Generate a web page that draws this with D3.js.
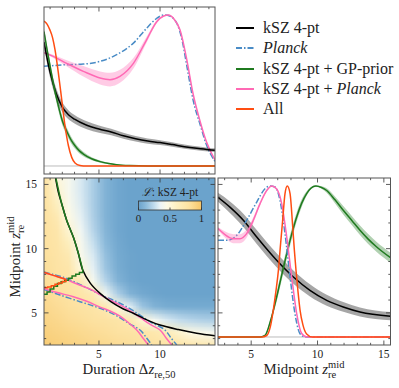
<!DOCTYPE html>
<html>
<head>
<meta charset="utf-8">
<script src="https://cdn.jsdelivr.net/npm/d3@7"></script>
<style>
  body { margin: 0; background: #fff; }
  svg text { font-family: "Liberation Serif", "Times New Roman", serif; fill: #222; }
</style>
</head>
<body>
<div id="chart"></div>
<script>
// ---- 1D marginal of the duration (top-left panel) ----
const durBlackX = [0.5, 1.0, 1.5, 2.0, 2.5, 3.0, 4.0, 5.0, 6.0, 7.0, 8.0, 9.0, 10.0, 11.0, 12.0, 13.0, 14.0, 14.5];
const durBlackY = [0.82, 0.62, 0.48, 0.39, 0.34, 0.31, 0.27, 0.245, 0.225, 0.2, 0.18, 0.165, 0.155, 0.142, 0.128, 0.117, 0.108, 0.105];
const durBlackErr = [0.03, 0.035, 0.035, 0.032, 0.03, 0.028, 0.026, 0.024, 0.022, 0.02, 0.018, 0.017, 0.016, 0.015, 0.014, 0.013, 0.012, 0.012];

const durGreenX = [0.5, 0.75, 1.0, 1.33, 1.67, 2.0, 2.36, 2.7, 3.04, 3.4, 3.72, 4.4, 5.09, 5.8, 6.45, 7.5, 9.0, 14.5];
const durGreenY = [0.89, 0.77, 0.66, 0.52, 0.40, 0.30, 0.23, 0.175, 0.134, 0.10, 0.079, 0.048, 0.029, 0.016, 0.009, 0.003, 0, 0];
const durGreenErr = [0.02, 0.025, 0.03, 0.03, 0.03, 0.028, 0.025, 0.022, 0.02, 0.017, 0.015, 0.01, 0.007, 0.005, 0.003, 0.001, 0, 0];

const durPinkX = [0.5, 1.26, 2.36, 3.72, 5.09, 5.9, 6.72, 7.82, 8.9, 9.73, 10.3, 10.7, 11.1, 11.64, 12.2, 12.7, 13.3, 13.8, 14.5];
const durPinkY = [0.75, 0.726, 0.68, 0.627, 0.583, 0.572, 0.594, 0.68, 0.836, 0.956, 0.993, 1.0, 0.978, 0.90, 0.70, 0.48, 0.29, 0.16, 0.04];
const durPinkErr = [0.005, 0.01, 0.02, 0.035, 0.043, 0.045, 0.043, 0.035, 0.02, 0.01, 0.005, 0.004, 0.005, 0.006, 0.008, 0.008, 0.007, 0.005, 0.003];

const durPlanckX = [0.5, 2.36, 3.72, 5.09, 6.45, 7.82, 8.9, 9.73, 10.3, 10.8, 11.4, 11.8, 12.2, 12.7, 13.3, 13.8, 14.5];
const durPlanckY = [0.66, 0.671, 0.675, 0.693, 0.737, 0.814, 0.912, 0.978, 1.0, 0.993, 0.94, 0.836, 0.66, 0.44, 0.27, 0.14, 0.03];

const durAllX = [0.5, 0.75, 0.99, 1.2, 1.4, 1.67, 1.95, 2.22, 2.5, 2.77, 3.04, 3.45, 4.0, 14.5];
const durAllY = [0.96, 0.94, 0.90, 0.85, 0.77, 0.62, 0.44, 0.265, 0.134, 0.057, 0.02, 0.004, 0, 0];

// ---- 1D marginal of the midpoint (bottom-right panel) ----
const midBlackX = [2.5, 3.4, 4.41, 5.42, 6.92, 8.18, 9.43, 10.69, 11.94, 13.2, 15.5];
const midBlackY = [0.925, 0.86, 0.773, 0.662, 0.508, 0.397, 0.309, 0.243, 0.199, 0.166, 0.138];
const midBlackErr = [0.03, 0.038, 0.044, 0.046, 0.046, 0.044, 0.04, 0.036, 0.032, 0.03, 0.027];

const midGreenX = [2.5, 5.7, 6.04, 6.5, 6.92, 7.3, 7.68, 8.05, 8.43, 8.8, 9.18, 9.5, 9.88, 10.3, 10.69, 11.3, 11.94, 12.6, 13.2, 13.8, 14.46, 15.5];
const midGreenY = [0, 0, 0.01, 0.12, 0.265, 0.41, 0.552, 0.68, 0.795, 0.885, 0.95, 0.985, 1.0, 0.99, 0.97, 0.91, 0.839, 0.77, 0.707, 0.65, 0.596, 0.525];
const midGreenErr = [0, 0, 0.002, 0.015, 0.03, 0.035, 0.035, 0.035, 0.03, 0.025, 0.015, 0.008, 0.005, 0.008, 0.015, 0.022, 0.028, 0.03, 0.032, 0.033, 0.033, 0.033];

const midPinkX = [2.5, 3.0, 3.65, 4.16, 4.66, 5.16, 5.67, 6.17, 6.55, 6.92, 7.3, 7.68, 8.05, 8.43, 8.81, 9.2, 15.5];
const midPinkY = [0.718, 0.68, 0.651, 0.651, 0.685, 0.773, 0.883, 0.97, 1.0, 0.98, 0.883, 0.662, 0.4, 0.155, 0.023, 0, 0];
const midPinkErr = [0.01, 0.02, 0.03, 0.03, 0.028, 0.02, 0.012, 0.006, 0.004, 0.005, 0.008, 0.01, 0.01, 0.008, 0.004, 0, 0];

const midPlanckX = [2.5, 3.15, 3.91, 4.66, 5.42, 6.04, 6.42, 6.8, 7.17, 7.55, 7.93, 8.3, 8.68, 9.1, 15.5];
const midPlanckY = [0.64, 0.64, 0.673, 0.773, 0.894, 0.982, 1.0, 0.993, 0.905, 0.684, 0.397, 0.155, 0.022, 0, 0];

const midAllX = [2.5, 5.8, 6.17, 6.45, 6.67, 6.86, 7.05, 7.2, 7.37, 7.55, 7.72, 7.93, 8.13, 8.25, 8.38, 8.53, 8.68, 8.9, 9.18, 9.6, 15.5];
const midAllY = [0, 0, 0.01, 0.07, 0.18, 0.3, 0.44, 0.6, 0.77, 0.95, 1.0, 0.95, 0.73, 0.58, 0.44, 0.3, 0.18, 0.08, 0.02, 0, 0];

// ---- 2D panel: likelihood grid (rows: midpoint 15.5 -> 2.5, cols: duration 0.5 -> 14.5) ----
const gridDur = d3.range(0.5, 14.51, 1);
const gridMid = d3.range(15.5, 2.49, -1);
const likeRows = [
  [0.80, 0.50, 0.40, 0.30, 0.19, 0.08, 0.02, 0, 0, 0, 0, 0, 0, 0, 0],
  [0.80, 0.55, 0.40, 0.30, 0.19, 0.08, 0.02, 0, 0, 0, 0, 0, 0, 0, 0],
  [0.80, 0.62, 0.42, 0.31, 0.19, 0.08, 0.02, 0, 0, 0, 0, 0, 0, 0, 0],
  [0.80, 0.70, 0.46, 0.33, 0.20, 0.08, 0.02, 0, 0, 0, 0, 0, 0, 0, 0],
  [0.80, 0.74, 0.53, 0.36, 0.22, 0.09, 0.02, 0, 0, 0, 0, 0, 0, 0, 0],
  [0.80, 0.76, 0.62, 0.40, 0.26, 0.11, 0.03, 0, 0, 0, 0, 0, 0, 0, 0],
  [0.81, 0.77, 0.70, 0.42, 0.30, 0.14, 0.04, 0.01, 0, 0, 0, 0, 0, 0, 0],
  [0.82, 0.78, 0.74, 0.49, 0.33, 0.16, 0.05, 0.01, 0, 0, 0, 0, 0, 0, 0],
  [0.83, 0.79, 0.76, 0.68, 0.40, 0.22, 0.08, 0.02, 0, 0, 0, 0, 0, 0, 0],
  [0.85, 0.81, 0.78, 0.75, 0.68, 0.38, 0.20, 0.08, 0.03, 0.01, 0, 0, 0, 0, 0],
  [0.87, 0.84, 0.81, 0.78, 0.76, 0.70, 0.48, 0.32, 0.16, 0.08, 0.05, 0.04, 0.04, 0.04, 0.04],
  [0.89, 0.87, 0.84, 0.82, 0.80, 0.78, 0.76, 0.70, 0.52, 0.38, 0.30, 0.25, 0.22, 0.20, 0.19],
  [0.92, 0.90, 0.88, 0.86, 0.84, 0.82, 0.80, 0.78, 0.76, 0.72, 0.66, 0.56, 0.46, 0.42, 0.39],
  [0.95, 0.93, 0.91, 0.89, 0.87, 0.86, 0.84, 0.82, 0.80, 0.79, 0.77, 0.75, 0.73, 0.71, 0.68]
];

// ---- 2D panel: contour lines as [duration, midpoint] ----
const cBlack = [[1.45, 15.5], [1.7, 14.3], [1.95, 13.5], [2.36, 12.2], [2.9, 10.9], [3.31, 9.64], [3.67, 8.34], [4.3, 7.3], [5.09, 6.52], [6.0, 5.85], [7.0, 5.3], [7.81, 4.97], [9.0, 4.42], [10.0, 4.05], [11.5, 3.7], [13.0, 3.42], [14.5, 3.22]];
const cGreenUpper = [[1.47, 15.5], [1.95, 13.5], [2.36, 12.2], [2.9, 10.9], [3.31, 9.64], [3.67, 8.34]];
const cGreenStairs = [[0.5, 6.45], [0.75, 6.62], [1.0, 6.85], [1.3, 7.08], [1.6, 7.28], [1.9, 7.42], [2.2, 7.55], [2.5, 7.7], [2.8, 7.88], [3.1, 8.0], [3.4, 8.15], [3.67, 8.34]];
const cAllUpper = [[0.5, 8.16], [1.0, 8.0], [1.5, 7.85], [2.0, 7.7], [2.3, 7.6]];
const cAllStairs = [[0.5, 6.96], [0.8, 7.02], [1.1, 7.12], [1.4, 7.22], [1.7, 7.33], [2.0, 7.45], [2.3, 7.6]];
const cPlanckUpper = [[0.5, 8.18], [1.2, 8.0], [2.08, 7.77], [3.0, 7.4], [4.27, 6.83], [5.4, 6.3], [6.45, 5.87], [7.5, 5.35], [8.36, 4.83], [9.2, 4.3], [10.4, 3.67], [10.9, 3.05], [11.37, 2.5]];
const cPlanckLower = [[0.5, 6.83], [1.81, 6.39], [3.45, 5.87], [4.6, 5.52], [5.63, 5.15], [6.5, 4.75], [7.5, 4.15], [8.36, 3.67], [8.9, 3.05], [9.32, 2.5]];
const cPinkUpper = [[0.5, 8.12], [1.3, 7.9], [2.3, 7.6], [3.2, 7.25], [4.27, 6.85], [5.3, 6.3], [6.45, 5.75], [7.5, 5.2], [8.36, 4.65], [9.2, 4.1], [10.0, 3.67], [10.5, 3.05], [10.96, 2.5]];
const cPinkLower = [[0.5, 6.91], [1.5, 6.6], [2.9, 6.26], [4.0, 5.9], [5.09, 5.45], [5.9, 5.15], [6.72, 4.75], [7.4, 4.25], [8.09, 3.67], [8.6, 3.05], [9.04, 2.5]];

// ---- legend ----
const legendNames = ["kSZ 4-pt", "Planck", "kSZ 4-pt + GP-prior", "kSZ 4-pt + Planck", "All"];
const legendColors = ["#000000", "#4a8cc6", "#1f7a1f", "#ff69b4", "#ff4d12"];

const durTicks = [5, 10];
const midTicks = [5, 10, 15];
const cbarTicks = [0, 0.5, 1];

const BLACK = "#000000", PLANCK = "#4a8cc6", GREEN = "#1f7a1f", PINK = "#ff69b4", ALL = "#ff4d12";
const DASHDOT = "6,2,1.5,2";

const W = 399, H = 388;
const TL = { x0: 44, x1: 215, y0: 7, y1: 174 };
const BL = { x0: 44, x1: 215, y0: 178, y1: 345 };
const BR = { x0: 218, x1: 390.5, y0: 178, y1: 345 };

const xDur = d3.scaleLinear([0.5, 14.5], [BL.x0, BL.x1]);
const yMid = d3.scaleLinear([2.5, 15.5], [BL.y1, BL.y0]);
const yTop = d3.scaleLinear([-0.053, 1.053], [TL.y1, TL.y0]);
const xMid = d3.scaleLinear([2.5, 15.5], [BR.x0, BR.x1]);
const yRight = d3.scaleLinear([-0.053, 1.053], [BR.y1, BR.y0]);

const cmap = d3.scaleLinear()
  .domain([0, 0.12, 0.25, 0.35, 0.45, 0.6, 0.8, 1])
  .range(["#6ba3cc", "#8dbbdb", "#c2dced", "#eef5f6", "#fefbe6", "#fdf0c2", "#fde2a1", "#f7c668"])
  .clamp(true);

const svg = d3.select("#chart").append("svg")
  .attr("width", W)
  .attr("height", H);
const defs = svg.append("defs");

[["clipTL", TL], ["clipBL", BL], ["clipBR", BR]].forEach(([id, b]) => {
  defs.append("clipPath").attr("id", id)
    .append("rect")
    .attr("x", b.x0).attr("y", b.y0)
    .attr("width", b.x1 - b.x0).attr("height", b.y1 - b.y0);
});

// ---------- heatmap ----------
const canvas = document.createElement("canvas");
canvas.width = gridDur.length;
canvas.height = gridMid.length;
const ctx = canvas.getContext("2d");
const img = ctx.createImageData(canvas.width, canvas.height);
likeRows.forEach((row, j) => {
  row.forEach((v, i) => {
    const c = d3.rgb(cmap(v));
    const k = (j * canvas.width + i) * 4;
    img.data[k] = c.r; img.data[k + 1] = c.g; img.data[k + 2] = c.b; img.data[k + 3] = 255;
  });
});
ctx.putImageData(img, 0, 0);

const gBL = svg.append("g").attr("clip-path", "url(#clipBL)");
gBL.append("image")
  .attr("href", canvas.toDataURL())
  .attr("x", xDur(0)).attr("y", yMid(16))
  .attr("width", xDur(15) - xDur(0))
  .attr("height", yMid(2) - yMid(16))
  .attr("preserveAspectRatio", "none");

const contourLine = (pts, color, curve, dash) => {
  gBL.append("path")
    .datum(pts)
    .attr("d", d3.line().x(d => xDur(d[0])).y(d => yMid(d[1])).curve(curve))
    .attr("fill", "none")
    .attr("stroke", color)
    .attr("stroke-width", 1.5)
    .attr("stroke-dasharray", dash || null);
};
const smooth = d3.curveCatmullRom.alpha(0.5);
contourLine(cPlanckUpper, PLANCK, smooth, DASHDOT);
contourLine(cPlanckLower, PLANCK, smooth, DASHDOT);
contourLine(cPinkUpper, PINK, smooth);
contourLine(cPinkLower, PINK, smooth);
contourLine(cBlack, BLACK, smooth);
contourLine(cGreenUpper, GREEN, smooth);
contourLine(cGreenStairs, GREEN, d3.curveStepAfter);
contourLine(cAllUpper, ALL, smooth);
contourLine(cAllStairs, ALL, d3.curveStepAfter);

// ---------- 1D panels ----------
const drawMarginal = (g, xs, ys, errs, xScale, yScale, color, fillOpacity, dash) => {
  const rows = d3.zip(xs, ys, errs || xs.map(() => 0));
  if (errs) {
    g.append("path")
      .datum(rows)
      .attr("d", d3.area()
        .x(d => xScale(d[0]))
        .y0(d => yScale(d[1] - d[2]))
        .y1(d => yScale(d[1] + d[2]))
        .curve(d3.curveMonotoneX))
      .attr("fill", color)
      .attr("fill-opacity", fillOpacity)
      .attr("stroke", "none");
  }
  g.append("path")
    .datum(rows)
    .attr("d", d3.line().x(d => xScale(d[0])).y(d => yScale(d[1])).curve(d3.curveMonotoneX))
    .attr("fill", "none")
    .attr("stroke", color)
    .attr("stroke-width", 1.5)
    .attr("stroke-dasharray", dash || null);
};

const gTL = svg.append("g").attr("clip-path", "url(#clipTL)");
gTL.append("line")
  .attr("x1", TL.x0).attr("x2", TL.x1)
  .attr("y1", yTop(0)).attr("y2", yTop(0))
  .attr("stroke", "#bbb").attr("stroke-width", 1);
drawMarginal(gTL, durPlanckX, durPlanckY, null, xDur, yTop, PLANCK, 0, DASHDOT);
drawMarginal(gTL, durPinkX, durPinkY, durPinkErr, xDur, yTop, PINK, 0.35);
drawMarginal(gTL, durBlackX, durBlackY, durBlackErr, xDur, yTop, BLACK, 0.35);
drawMarginal(gTL, durGreenX, durGreenY, durGreenErr, xDur, yTop, GREEN, 0.35);
drawMarginal(gTL, durAllX, durAllY, null, xDur, yTop, ALL, 0);

const gBR = svg.append("g").attr("clip-path", "url(#clipBR)");
gBR.append("line")
  .attr("x1", BR.x0).attr("x2", BR.x1)
  .attr("y1", yRight(0)).attr("y2", yRight(0))
  .attr("stroke", "#bbb").attr("stroke-width", 1);
drawMarginal(gBR, midBlackX, midBlackY, midBlackErr, xMid, yRight, BLACK, 0.35);
drawMarginal(gBR, midGreenX, midGreenY, midGreenErr, xMid, yRight, GREEN, 0.35);
drawMarginal(gBR, midPlanckX, midPlanckY, null, xMid, yRight, PLANCK, 0, DASHDOT);
drawMarginal(gBR, midPinkX, midPinkY, midPinkErr, xMid, yRight, PINK, 0.35);
drawMarginal(gBR, midAllX, midAllY, null, xMid, yRight, ALL, 0);

// ---------- frames and ticks ----------
const minorOf = (lo, hi, majors) => d3.range(lo, hi + 0.01, 1).filter(v => !majors.includes(v));

const drawFrame = (b, xScale, xMaj, xMin, yScale, yMaj, yMin) => {
  const g = svg.append("g").attr("stroke", "#333").attr("stroke-width", 0.8);
  const tick = (v, len, horizontal) => {
    if (horizontal) {
      const x = xScale(v);
      g.append("line").attr("x1", x).attr("x2", x).attr("y1", b.y1).attr("y2", b.y1 - len);
      g.append("line").attr("x1", x).attr("x2", x).attr("y1", b.y0).attr("y2", b.y0 + len);
    } else {
      const y = yScale(v);
      g.append("line").attr("y1", y).attr("y2", y).attr("x1", b.x0).attr("x2", b.x0 + len);
      g.append("line").attr("y1", y).attr("y2", y).attr("x1", b.x1).attr("x2", b.x1 - len);
    }
  };
  xMaj.forEach(v => tick(v, 4.5, true));
  xMin.forEach(v => tick(v, 2.2, true));
  if (yScale) {
    yMaj.forEach(v => tick(v, 4.5, false));
    yMin.forEach(v => tick(v, 2.2, false));
  }
  svg.append("rect")
    .attr("x", b.x0).attr("y", b.y0)
    .attr("width", b.x1 - b.x0).attr("height", b.y1 - b.y0)
    .attr("fill", "none").attr("stroke", "#555").attr("stroke-width", 1);
};

const durMinor = minorOf(1, 14, durTicks);
const midMinor = minorOf(3, 15, midTicks);
drawFrame(TL, xDur, durTicks, durMinor, null);
drawFrame(BL, xDur, durTicks, durMinor, yMid, midTicks, midMinor);
drawFrame(BR, xMid, midTicks, midMinor, yMid, midTicks, midMinor);

// tick labels
svg.append("g").selectAll("text").data(durTicks).join("text")
  .attr("x", d => xDur(d)).attr("y", 358)
  .attr("text-anchor", "middle").attr("font-size", 11.5)
  .text(d => d);
svg.append("g").selectAll("text").data(midTicks).join("text")
  .attr("x", d => xMid(d)).attr("y", 358)
  .attr("text-anchor", "middle").attr("font-size", 11.5)
  .text(d => d);
svg.append("g").selectAll("text").data(midTicks).join("text")
  .attr("x", 37).attr("y", d => yMid(d) + 4)
  .attr("text-anchor", "end").attr("font-size", 11.5)
  .text(d => d);

// axis titles
const xTitle = svg.append("text")
  .attr("x", 129).attr("y", 374)
  .attr("text-anchor", "middle").attr("font-size", 14.8);
xTitle.append("tspan").text("Duration \u0394");
xTitle.append("tspan").attr("font-style", "italic").text("z");
xTitle.append("tspan").attr("font-size", 10.5).attr("dy", 3.5).text("re,50");

const midTitle = (sel) => {
  sel.append("tspan").text("Midpoint ");
  sel.append("tspan").attr("font-style", "italic").text("z");
  sel.append("tspan").attr("font-size", 10.5).attr("dy", 3.5).text("re");
  sel.append("tspan").attr("font-size", 10.5).attr("dx", -8.2).attr("dy", -10).text("mid");
};
midTitle(svg.append("text")
  .attr("x", 304).attr("y", 374)
  .attr("text-anchor", "middle").attr("font-size", 14.8));
midTitle(svg.append("text")
  .attr("transform", "translate(20,257) rotate(-90)")
  .attr("text-anchor", "middle").attr("font-size", 14.8));

// ---------- colorbar inset ----------
const cb = { x0: 138.5, x1: 201.5, y0: 201, y1: 210 };
const grad = defs.append("linearGradient").attr("id", "cbar");
d3.range(0, 1.001, 0.05).forEach(t => {
  grad.append("stop").attr("offset", t).attr("stop-color", cmap(t));
});
const cbScale = d3.scaleLinear([0, 1], [cb.x0, cb.x1]);
svg.append("rect")
  .attr("x", cb.x0).attr("y", cb.y0)
  .attr("width", cb.x1 - cb.x0).attr("height", cb.y1 - cb.y0)
  .attr("fill", "url(#cbar)")
  .attr("stroke", "#333").attr("stroke-width", 0.8);
svg.append("g").selectAll("line").data(cbarTicks).join("line")
  .attr("x1", d => cbScale(d)).attr("x2", d => cbScale(d))
  .attr("y1", cb.y1).attr("y2", cb.y1 - 2.5)
  .attr("stroke", "#333").attr("stroke-width", 0.8);
svg.append("g").selectAll("text").data(cbarTicks).join("text")
  .attr("x", d => cbScale(d)).attr("y", 222)
  .attr("text-anchor", "middle").attr("font-size", 11)
  .text(d => d);
const cbTitle = svg.append("text")
  .attr("x", 170).attr("y", 196)
  .attr("text-anchor", "middle").attr("font-size", 11.5);
cbTitle.append("tspan").attr("font-style", "italic").text("\u2112");
cbTitle.append("tspan").text(": kSZ 4-pt");

// ---------- legend ----------
const legendY = [28, 48, 69, 89, 109];
const legend = svg.append("g");
legendNames.forEach((name, i) => {
  legend.append("line")
    .attr("x1", 236).attr("x2", 254)
    .attr("y1", legendY[i]).attr("y2", legendY[i])
    .attr("stroke", legendColors[i]).attr("stroke-width", 2)
    .attr("stroke-dasharray", name === "Planck" ? DASHDOT : null);
  const t = legend.append("text")
    .attr("x", 263).attr("y", legendY[i] + 5)
    .attr("font-size", 16);
  if (name === "Planck") {
    t.append("tspan").attr("font-style", "italic").text("Planck");
  } else if (name.endsWith("Planck")) {
    t.append("tspan").text(name.replace("Planck", ""));
    t.append("tspan").attr("font-style", "italic").text("Planck");
  } else {
    t.text(name);
  }
});
</script>
</body>
</html>
